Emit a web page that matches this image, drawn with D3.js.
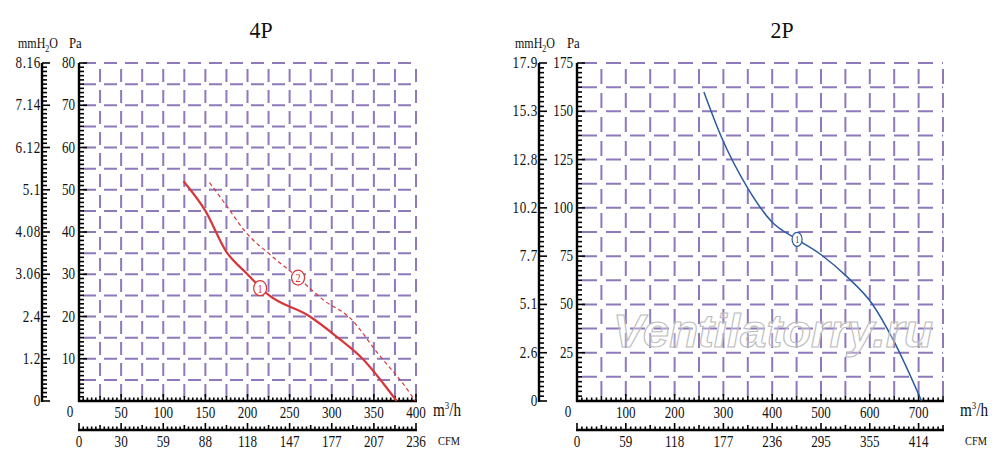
<!DOCTYPE html>
<html><head><meta charset="utf-8">
<script src="https://cdn.jsdelivr.net/npm/d3@7"></script>
<style>body{margin:0;background:#fff}</style>
</head><body>
<svg id="c" width="1000" height="466" xmlns="http://www.w3.org/2000/svg"></svg>
<script>
// ---------- DATA ----------
const titles = ["4P", "2P"];

// 4P chart, curve 1 (solid) and curve 2 (dashed)
const flow4P_1 = [124, 150, 175, 199, 225, 274, 306, 338, 361, 377];
const pa4P_1   = [52, 45, 35.3, 30.2, 25.1, 20, 15.2, 9.7, 4.2, 0];
const flow4P_2 = [155, 173, 199, 227, 260, 290, 322, 353, 393, 399];
const pa4P_2   = [51.7, 46.8, 39.7, 34.6, 29.2, 23.9, 19.6, 11.7, 1.8, 0];
const marker4P_flow = [215, 260];
const marker4P_pa   = [26.7, 29.2];
const marker4P_text = ["1", "2"];

const paTicks4P   = [10, 20, 30, 40, 50, 60, 70, 80];
const mmTicks4P   = [0, 10, 20, 30, 40, 50, 60, 70, 80];
const mmLabels4P  = ["0", "1.2", "2.4", "3.06", "4.08", "5.1", "6.12", "7.14", "8.16"];
const flowTicks4P = [50, 100, 150, 200, 250, 300, 350, 400];
const cfmTicks4P  = [0, 50, 100, 150, 200, 250, 300, 350, 400];
const cfmLabels4P = ["0", "30", "59", "88", "118", "147", "177", "207", "236"];

// 2P chart
const flow2P = [260, 297, 348, 399, 451, 501, 553, 604, 648, 706];
const pa2P   = [160, 136, 111, 92.8, 83.7, 75.6, 64.4, 50.6, 31.6, 0];
const marker2P_flow = [451];
const marker2P_pa   = [83.7];
const marker2P_text = ["1"];

const paTicks2P   = [25, 50, 75, 100, 125, 150, 175];
const mmTicks2P   = [0, 25, 50, 75, 100, 125, 150, 175];
const mmLabels2P  = ["0", "2.6", "5.1", "7.7", "10.2", "12.8", "15.3", "17.9"];
const flowTicks2P = [100, 200, 300, 400, 500, 600, 700];
const cfmTicks2P  = [0, 100, 200, 300, 400, 500, 600, 700];
const cfmLabels2P = ["0", "59", "118", "177", "236", "295", "355", "414"];

// ---------- DRAW ----------
const svg = d3.select("#c");
const FONT = "'Liberation Serif', 'DejaVu Serif', serif";

function txt(g, x, y, s, o) {
  o = o || {};
  const t = g.append("text")
    .attr("transform", `translate(${x},${y}) scale(${o.sx || 0.82},1)`)
    .attr("text-anchor", o.anchor || "middle")
    .attr("font-family", FONT)
    .attr("font-size", o.fs || 16)
    .attr("fill", o.fill || "#111");
  if (o.ls) t.attr("letter-spacing", o.ls);
  if (s !== null) t.text(s);
  return t;
}

function panel(cfg) {
  const g = svg.append("g");
  const x = d3.scaleLinear().domain([0, cfg.xMax]).range([cfg.left, cfg.right]);
  const y = d3.scaleLinear().domain([0, cfg.yMax]).range([cfg.bottom, cfg.top]);

  // grid
  const gridC = "#8e79bb";
  const gx = d3.range(cfg.gridX, cfg.xMax + 1e-6, cfg.gridX);
  const gy = d3.range(cfg.gridY, cfg.yMax + 1e-6, cfg.gridY);
  g.append("g").selectAll("line").data(gx).join("line")
    .attr("x1", d => x(d)).attr("x2", d => x(d))
    .attr("y1", cfg.bottom).attr("y2", cfg.top)
    .attr("stroke", gridC).attr("stroke-width", 2)
    .attr("stroke-dasharray", cfg.dash).attr("stroke-dashoffset", cfg.dashOff);
  g.append("g").selectAll("line").data(gy).join("line")
    .attr("x1", cfg.left).attr("x2", cfg.right)
    .attr("y1", d => y(d)).attr("y2", d => y(d))
    .attr("stroke", gridC).attr("stroke-width", 2)
    .attr("stroke-dasharray", cfg.dash).attr("stroke-dashoffset", cfg.dashOff);

  // Pa ruler (left edge) and mmH2O ruler
  const minorY = d3.range(0, cfg.yMax + 1e-6, cfg.minorY);
  const isMajY = d => cfg.paTicks.some(t => Math.abs(t - d) < 1e-6) || d === 0;
  function vRuler(xpos) {
    g.append("line").attr("x1", xpos).attr("x2", xpos)
      .attr("y1", cfg.bottom + 1).attr("y2", cfg.top)
      .attr("stroke", "#000").attr("stroke-width", 2.4);
    g.append("g").selectAll("line").data(minorY).join("line")
      .attr("x1", xpos).attr("x2", d => xpos + (isMajY(d) ? 8 : 5))
      .attr("y1", d => y(d)).attr("y2", d => y(d))
      .attr("stroke", "#000").attr("stroke-width", 1.6);
  }
  vRuler(cfg.left);
  vRuler(cfg.mmX);

  cfg.paTicks.forEach(d => txt(g, cfg.left - 4, y(d) + 5, String(d), { anchor: "end" }));
  cfg.mmTicks.forEach((d, i) => txt(g, cfg.mmX - 1, y(d) + 5, cfg.mmLabels[i], { anchor: "end", ls: 0.8 }));

  // bottom m3/h ruler and CFM ruler
  const minorX = d3.range(0, cfg.xMax + 1e-6, cfg.minorX);
  const tickLen = d => {
    const r = d / cfg.labelStep;
    if (Math.abs(r - Math.round(r)) < 1e-6) return 7;
    const r2 = d / (cfg.labelStep / 2);
    if (Math.abs(r2 - Math.round(r2)) < 1e-6) return 5;
    return 3.5;
  };
  function hRuler(ypos) {
    g.append("line").attr("x1", cfg.left - 1).attr("x2", cfg.right + 1)
      .attr("y1", ypos).attr("y2", ypos)
      .attr("stroke", "#000").attr("stroke-width", 2.4);
    g.append("g").selectAll("line").data(minorX).join("line")
      .attr("x1", d => x(d)).attr("x2", d => x(d))
      .attr("y1", ypos).attr("y2", d => ypos - tickLen(d))
      .attr("stroke", "#000").attr("stroke-width", 1.6);
  }
  hRuler(cfg.bottom);
  hRuler(cfg.cfmY);

  txt(g, cfg.left - 9, cfg.bottom + 16, "0");
  cfg.flowTicks.forEach(d => txt(g, x(d), cfg.bottom + 17, String(d)));
  cfg.cfmTicks.forEach((d, i) => txt(g, x(d), cfg.cfmY + 17, cfg.cfmLabels[i]));

  // unit labels
  const uy = txt(g, cfg.right + 17, cfg.bottom + 15, null, { anchor: "start", fs: 19, sx: 0.8 });
  uy.append("tspan").text("m");
  uy.append("tspan").attr("font-size", 11).attr("dy", -7).text("3");
  uy.append("tspan").attr("dy", 7).text("/h");
  txt(g, cfg.right + 22, cfg.cfmY + 15, "CFM", { anchor: "start", fs: 13, sx: 0.8 });

  const mh = txt(g, cfg.mmX - 24, cfg.top - 15, null, { anchor: "start", fs: 15, sx: 0.8 });
  mh.append("tspan").text("mmH");
  mh.append("tspan").attr("font-size", 10).attr("dy", 4).text("2");
  mh.append("tspan").attr("dy", -4).text("O");
  txt(g, cfg.left - 10, cfg.top - 15, "Pa", { anchor: "start", fs: 15, sx: 0.85 });

  // title
  txt(g, cfg.titleX, 38, cfg.title, { fs: 23, sx: 0.95 });

  return { g, x, y };
}

const common = { top: 63, bottom: 401, cfmY: 430 };

const p1 = panel(Object.assign({}, common, {
  left: 79, right: 416, mmX: 42, xMax: 400, yMax: 80,
  gridX: 25, gridY: 5, minorY: 1, minorX: 5, labelStep: 50,
  dash: "13,8", dashOff: -4,
  paTicks: paTicks4P, mmTicks: mmTicks4P, mmLabels: mmLabels4P,
  flowTicks: flowTicks4P, cfmTicks: cfmTicks4P, cfmLabels: cfmLabels4P,
  title: titles[0], titleX: 261
}));

const p2 = panel(Object.assign({}, common, {
  left: 577, right: 943, mmX: 539, xMax: 750, yMax: 175,
  gridX: 50, gridY: 12.5, minorY: 2.5, minorX: 10, labelStep: 100,
  dash: "15,9", dashOff: -5,
  paTicks: paTicks2P, mmTicks: mmTicks2P, mmLabels: mmLabels2P,
  flowTicks: flowTicks2P, cfmTicks: cfmTicks2P, cfmLabels: cfmLabels2P,
  title: titles[1], titleX: 782
}));

// watermark
svg.append("text")
  .attr("x", 613).attr("y", 347)
  .attr("font-family", "'Liberation Sans', Arial, sans-serif")
  .attr("font-weight", "bold").attr("font-style", "italic")
  .attr("font-size", 46)
  .attr("textLength", 320).attr("lengthAdjust", "spacingAndGlyphs")
  .attr("fill", "rgba(255,255,255,0.3)").attr("stroke", "#bcbcbc").attr("stroke-width", 1.1)
  .text("Ventilatorry.ru");

// curves
function curve(p, xs, ys, color, width, dash) {
  const pts = xs.map((d, i) => [d, ys[i]]);
  p.g.append("path")
    .attr("d", d3.line().x(d => p.x(d[0])).y(d => p.y(d[1])).curve(d3.curveMonotoneX)(pts))
    .attr("fill", "none").attr("stroke", color).attr("stroke-width", width)
    .attr("stroke-dasharray", dash || null);
}
function markers(p, xs, ys, labels, color, rx, ry, fs) {
  xs.forEach((d, i) => {
    const cx = p.x(d), cy = p.y(ys[i]);
    p.g.append("ellipse").attr("cx", cx).attr("cy", cy).attr("rx", rx).attr("ry", ry)
      .attr("fill", "#fff").attr("stroke", color).attr("stroke-width", 1.2);
    txt(p.g, cx, cy + fs * 0.35, labels[i], { fs: fs, sx: 0.8, fill: color });
  });
}

const red = "#d8363a";
curve(p1, flow4P_1, pa4P_1, red, 2.2);
curve(p1, flow4P_2, pa4P_2, red, 1.2, "4,3");
markers(p1, marker4P_flow, marker4P_pa, marker4P_text, red, 6.5, 7.5, 13);

const blue = "#2c5b9e";
curve(p2, flow2P, pa2P, blue, 1.5);
markers(p2, marker2P_flow, marker2P_pa, marker2P_text, blue, 5, 7, 11);
</script>
</body></html>
